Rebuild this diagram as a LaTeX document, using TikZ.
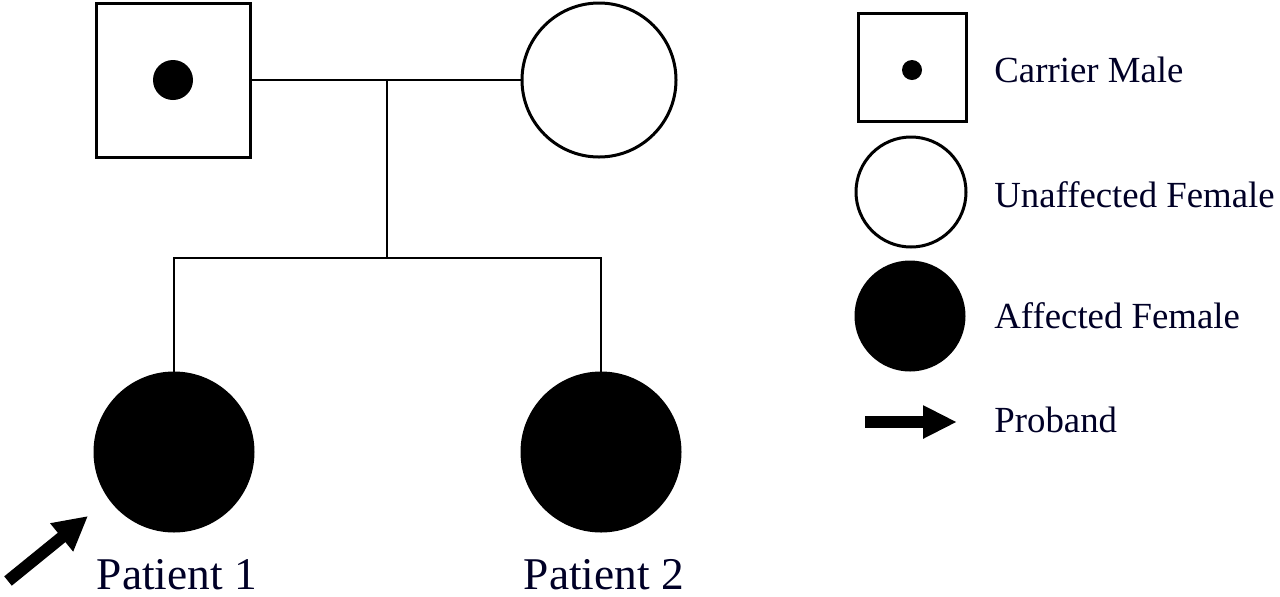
\documentclass[tikz,border=0pt]{standalone}
\usepackage{fontspec}
\setmainfont{Liberation Serif}
\usetikzlibrary{arrows.meta}
\begin{document}
\begin{tikzpicture}[x=0.5pt,y=-0.5pt,
  male/.style={draw,line width=1.5pt,fill=white,minimum size=#1,inner sep=0pt,shape=rectangle},
  female/.style={draw,line width=1.5pt,fill=white,minimum size=#1,inner sep=0pt,shape=circle},
  affected/.style={draw,line width=1.5pt,fill=black,minimum size=#1,inner sep=0pt,shape=circle},
  dotmark/.style={fill=black,circle,minimum size=#1,inner sep=0pt},
  link/.style={line width=1pt},
  proband/.style={line width=6pt,-{Triangle[length=17pt,width=17pt]}},
  lbl/.style={font=\fontsize{18.4pt}{22pt}\selectfont,anchor=base west,inner sep=0pt,text=black!85!blue},
  plbl/.style={font=\fontsize{22.7pt}{27pt}\selectfont,anchor=base,inner sep=0pt,text depth=0pt,text=black!85!blue}]
\useasboundingbox (0,0) rectangle (1280,596);
% parents
\node[male=77pt] (f) at (173,80) {};
\node[dotmark=20pt] (fdot) at (173,80) {};
\node[female=77pt] (m) at (599,80) {};
\draw[link] (f.east) -- (m.west);
\coordinate (mid) at (387,80);
\coordinate (sib) at (387,258);
\draw[link] (mid) -- (sib);
% children
\node[affected=79pt] (p1) at (174,452) {};
\node[affected=79pt] (p2) at (601,452) {};
\draw[link] (p1.north) |- (sib) -| (p2.north);
\node[plbl] (t1) at (177,589) {Patient 1};
\node[plbl] (t2) at (604,589) {Patient 2};
\coordinate (atail) at (8,581);
\coordinate (atip) at (88,516);
\draw[proband] (atail) -- (atip);
% legend
\node[male=54pt] (lm) at (912,67) {};
\node[dotmark=10pt] (lmdot) at (912,70) {};
\node[female=55pt] (lf) at (911,192) {};
\node[affected=54pt] (la) at (910,316) {};
\coordinate (ltail) at (865,422);
\coordinate (ltip) at (957,422);
\draw[proband,-{Triangle[length=17pt,width=15.5pt]}] (ltail) -- (ltip);
\node[lbl] (tm) at (994,82) {Carrier Male};
\node[lbl] (tf) at (994,207) {Unaffected Female};
\node[lbl] (ta) at (994,328) {Affected Female};
\node[lbl] (tp) at (994,432) {Proband};
\end{tikzpicture}
\end{document}
